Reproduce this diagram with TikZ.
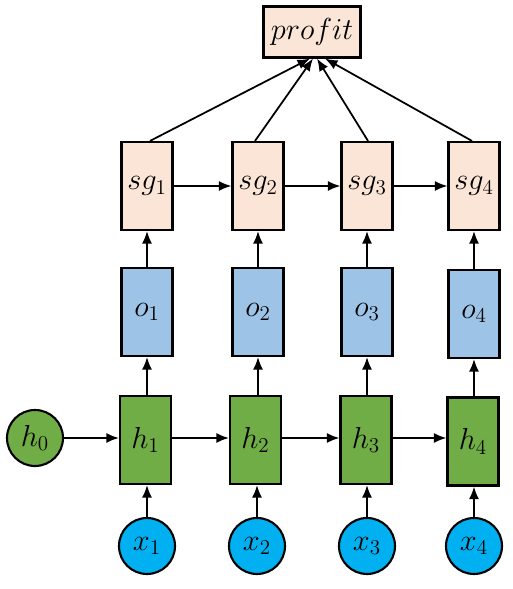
\documentclass[tikz,border=0pt]{standalone}
\usepackage{tikz}
\usetikzlibrary{shapes, arrows.meta, positioning, calc}
\usepackage{amsmath, amssymb}
\definecolor{sgpeach}{RGB}{251, 229, 214}
\definecolor{oblue}{RGB}{157, 195, 230}
\definecolor{hgreen}{RGB}{112, 173, 71}
\definecolor{xcyan}{RGB}{0, 176, 240}

\begin{document}
\begin{tikzpicture}[
  cell/.style={draw=black, line width=1.2pt, minimum width=1.02cm, minimum height=1.76cm, inner sep=0pt, font=\fontsize{18}{21}\selectfont},
  sgbox/.style={cell, fill=sgpeach},
  obox/.style={cell, fill=oblue},
  hbox/.style={cell, fill=hgreen},
  inode/.style={circle, draw=black, line width=1.2pt, minimum size=1.12cm, inner sep=0pt, font=\fontsize{18}{21}\selectfont},
  outbox/.style={draw=black, line width=1.2pt, fill=sgpeach, minimum width=1.94cm, minimum height=1.02cm, font=\fontsize{18}{21}\selectfont},
  link/.style={-{Latex[length=2.5mm, width=2mm]}, line width=1pt}
]
  \useasboundingbox (0, 0) rectangle (10.24, 11.78);

  % output
  \node[outbox] (profit) at (6.24, 11.14) {$profit$};

  % sg layer
  \node[sgbox] (sg1) at (2.94, 8.06) {$sg_1$};
  \node[sgbox] (sg2) at (5.16, 8.06) {$sg_2$};
  \node[sgbox] (sg3) at (7.34, 8.06) {$sg_3$};
  \node[sgbox] (sg4) at (9.48, 8.06) {$sg_4$};

  % o layer
  \node[obox] (o1) at (2.94, 5.54) {$o_1$};
  \node[obox] (o2) at (5.16, 5.54) {$o_2$};
  \node[obox] (o3) at (7.34, 5.54) {$o_3$};
  \node[obox] (o4) at (9.48, 5.50) {$o_4$};

  % hidden layer
  \node[inode, fill=hgreen] (h0) at (0.70, 3.02) {$h_0$};
  \node[hbox] (h1) at (2.91, 2.98) {$h_1$};
  \node[hbox] (h2) at (5.11, 2.98) {$h_2$};
  \node[hbox] (h3) at (7.32, 2.98) {$h_3$};
  \node[hbox] (h4) at (9.46, 2.95) {$h_4$};

  % inputs
  \node[inode, fill=xcyan] (x1) at (2.94, 0.86) {$x_1$};
  \node[inode, fill=xcyan] (x2) at (5.14, 0.86) {$x_2$};
  \node[inode, fill=xcyan] (x3) at (7.34, 0.86) {$x_3$};
  \node[inode, fill=xcyan] (x4) at (9.48, 0.86) {$x_4$};

  % recurrence
  \draw[link] (h0) -- (h0 -| h1.west);
  \draw[link] (h1.east |- h0) -- (h0 -| h2.west);
  \draw[link] (h2.east |- h0) -- (h0 -| h3.west);
  \draw[link] (h3.east |- h0) -- (h0 -| h4.west);
  \draw[link] (sg1) -- (sg2);
  \draw[link] (sg2) -- (sg3);
  \draw[link] (sg3) -- (sg4);

  % upward
  \draw[link] (x1) -- (h1.south -| x1);
  \draw[link] (x2) -- (h2.south -| x2);
  \draw[link] (x3) -- (h3.south -| x3);
  \draw[link] (x4) -- (h4.south -| x4);
  \draw[link] (h1.north -| o1) -- (o1);
  \draw[link] (h2.north -| o2) -- (o2);
  \draw[link] (h3.north -| o3) -- (o3);
  \draw[link] (h4.north -| o4) -- (o4);
  \draw[link] (o1) -- (sg1);
  \draw[link] (o2) -- (sg2);
  \draw[link] (o3) -- (sg3);
  \draw[link] (o4) -- (sg4);

  % to profit
  \draw[link] ([xshift=0.06cm]sg1.north) -- ([xshift=-0.04cm]profit.south);
  \draw[link] ([xshift=-0.06cm]sg2.north) -- ([xshift=0.02cm]profit.south);
  \draw[link] ([xshift=0.02cm]sg3.north) -- ([xshift=0.10cm]profit.south);
  \draw[link] ([xshift=-0.04cm]sg4.north) -- ([xshift=0.26cm]profit.south);
\end{tikzpicture}
\end{document}
